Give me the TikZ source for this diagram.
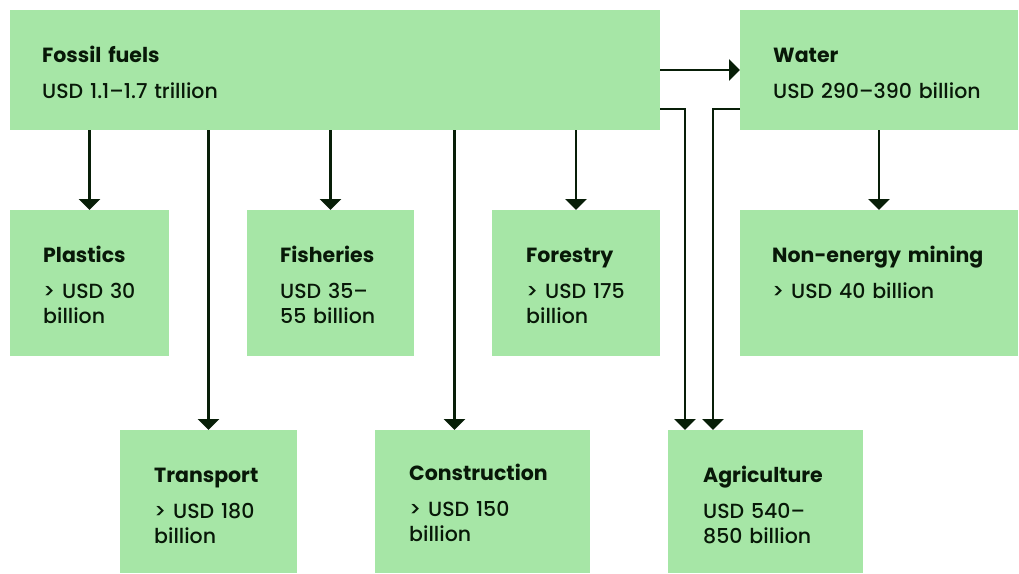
\documentclass[tikz,border=0pt]{standalone}
\usepackage{fontspec}
\setmainfont{Poppins}[UprightFont={* Medium}, BoldFont={* Bold}]
\usetikzlibrary{arrows.meta}
\definecolor{boxgreen}{RGB}{166,230,166}
\definecolor{ink}{RGB}{8,24,8}
\definecolor{arrink}{RGB}{8,30,8}
\tikzset{
	box/.style={fill=boxgreen, draw=none, anchor=north west, inner sep=0pt, outer sep=0pt},
	lbl/.style={anchor=base west, inner sep=0pt, text width=260pt, align=left, text=ink, font=\fontsize{20.5}{25}\selectfont},
	arr/.style={-{Triangle[length=11pt,width=21pt]}, line width=2.4pt, draw=arrink}
}
\begin{document}
\begin{tikzpicture}[x=1pt,y=-1pt]
		\useasboundingbox (0,0) rectangle (1019,573);
		\node(ff)[box, minimum width=650pt, minimum height=120pt] at (10,10) {};
		\node(wa)[box, minimum width=278pt, minimum height=120pt] at (740,10) {};
		\node(pl)[box, minimum width=159pt, minimum height=146pt] at (10,210) {};
		\node(fi)[box, minimum width=167pt, minimum height=146pt] at (247,210) {};
		\node(fo)[box, minimum width=168pt, minimum height=146pt] at (492,210) {};
		\node(nm)[box, minimum width=278pt, minimum height=146pt] at (740,210) {};
		\node(tr)[box, minimum width=177pt, minimum height=143pt] at (120,430) {};
		\node(co)[box, minimum width=215pt, minimum height=143pt] at (375,430) {};
		\node(ag)[box, minimum width=195pt, minimum height=143pt] at (668,430) {};
		
		\node(ffl)[lbl] at ([xshift=32pt,yshift=-52pt]ff.north west) {\textbf{Fossil fuels}\\[11pt]USD 1.1–1.7 trillion};
		\node(wal)[lbl] at ([xshift=33pt,yshift=-52pt]wa.north west) {\textbf{Water}\\[11pt]USD 290–390 billion};
		\node(pll)[lbl] at ([xshift=33pt,yshift=-52pt]pl.north west) {\textbf{Plastics}\\[11pt]> USD 30\\billion};
		\node(fil)[lbl] at ([xshift=33pt,yshift=-52pt]fi.north west) {\textbf{Fisheries}\\[11pt]USD 35–\\55 billion};
		\node(fol)[lbl] at ([xshift=34pt,yshift=-52pt]fo.north west) {\textbf{Forestry}\\[11pt]> USD 175\\billion};
		\node(nml)[lbl] at ([xshift=32pt,yshift=-52pt]nm.north west) {\textbf{Non-energy mining}\\[11pt]> USD 40 billion};
		\node(trl)[lbl] at ([xshift=34pt,yshift=-52pt]tr.north west) {\textbf{Transport}\\[11pt]> USD 180\\billion};
		\node(col)[lbl] at ([xshift=34pt,yshift=-50pt]co.north west) {\textbf{Construction}\\[11pt]> USD 150\\billion};
		\node(agl)[lbl] at ([xshift=35pt,yshift=-52pt]ag.north west) {\textbf{Agriculture}\\[11pt]USD 540–\\850 billion};
		
		\draw[arr] (ff.east) -- (wa.west);
		\draw[arr] (pl.north |- ff.south) -- (pl.north);
		\draw[arr] (tr.north |- ff.south) -- (tr.north);
		\draw[arr] (fi.north |- ff.south) -- (fi.north);
		\draw[arr] ([xshift=-28pt]co.north |- ff.south) -- ([xshift=-28pt]co.north);
		\draw[arr] (fo.north |- ff.south) -- (fo.north);
		\draw[arr] (nm.north |- wa.south) -- (nm.north);
		\draw[arr] ([yshift=21pt]ff.south east) -| ([xshift=17pt]ag.north west);
		\draw[arr] ([yshift=21pt]wa.south west) -| ([xshift=45pt]ag.north west);
\end{tikzpicture}
\end{document}
